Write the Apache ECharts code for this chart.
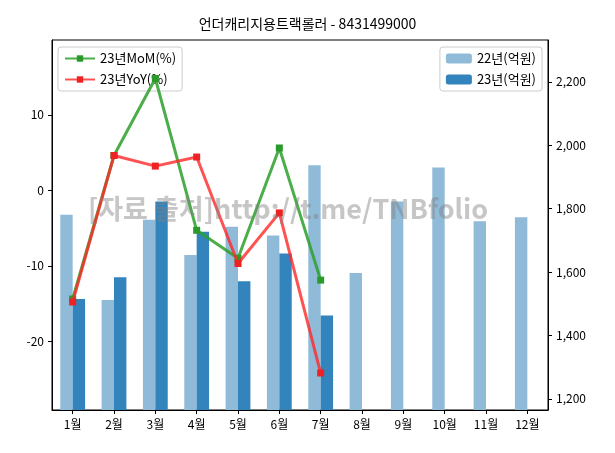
<!DOCTYPE html>
<html><head><meta charset="utf-8">
<script src="https://cdn.jsdelivr.net/npm/echarts@6/dist/echarts.min.js"></script>
<style>body{margin:0}#main{width:615px;height:453px}</style>
</head><body><div id="main"></div>
<script>
var months = ['1월','2월','3월','4월','5월','6월','7월','8월','9월','10월','11월','12월'];
var y22 = [1781,1512,1765,1654,1743,1715,1937,1597,1823,1930,1760,1773];
var y23 = [1515,1584,1823,1727,1571,1659,1463];
var mom = [-14.4,4.6,14.8,-5.3,-9.0,5.6,-11.9];
var yoy = [-14.8,4.6,3.2,4.4,-9.7,-3.0,-24.2];
var leftTicks = [-20,-10,0,10];
var rightTicks = [1200,1400,1600,1800,2000,2200];

var font = 'Noto Sans CJK KR';
var myChart = echarts.init(document.getElementById('main'));
var axisCommon = {
    axisLine: {show: true, onZero: false, lineStyle: {color: '#000'}},
    axisTick: {show: true, inside: false, length: 4, lineStyle: {color: '#000'}},
    axisLabel: {color: '#000', fontFamily: font, fontSize: 12},
    splitLine: {show: false}
};
var option = {
    textStyle: {fontFamily: font},
    title: {text: '언더캐리지용트랙롤러 - 8431499000', left: 'center', top: 12,
        textStyle: {fontSize: 14, fontWeight: 'normal', color: '#000', fontFamily: font}},
    graphic: [{type: 'text', left: 88, top: 195, z: 100,
        style: {text: '[자료 출처]http://t.me/TNBfolio', fontSize: 27, fontWeight: 'bold',
            fill: 'rgba(128,128,128,0.45)', fontFamily: font}}],
    legend: [
        {data: ['23년MoM(%)','23년YoY(%)'], orient: 'vertical', left: 58, top: 47,
         itemGap: 8, itemWidth: 30, itemHeight: 8, backgroundColor: '#fff',
         borderColor: '#ccc', borderWidth: 1, borderRadius: 3, padding: [5,6],
         textStyle: {fontSize: 13, color: '#000'}},
        {data: ['22년(억원)','23년(억원)'], orient: 'vertical', right: 73, top: 47,
         itemGap: 8, itemWidth: 26, itemHeight: 10, backgroundColor: '#fff',
         borderColor: '#ccc', borderWidth: 1, borderRadius: 3, padding: [5,6],
         textStyle: {fontSize: 13, color: '#000'}}
    ],
    grid: {left: 52, right: 67, top: 40, bottom: 43, show: true, borderColor: '#000', borderWidth: 1},
    xAxis: Object.assign({}, axisCommon, {type: 'category', data: months,
        axisTick: {show: true, alignWithLabel: true, length: 4, lineStyle: {color: '#000'}}}),
    yAxis: [
        Object.assign({}, axisCommon, {type: 'value', min: -29.1, max: 19.9,
            axisLabel: {color: '#000', fontSize: 12, customValues: leftTicks},
            axisTick: {show: true, length: 4, lineStyle: {color: '#000'}, customValues: leftTicks}}),
        Object.assign({}, axisCommon, {type: 'value', min: 1165, max: 2332, position: 'right',
            axisLabel: {color: '#000', fontSize: 12, customValues: rightTicks,
                formatter: function (v) { return v.toLocaleString('en-US'); }},
            axisTick: {show: true, length: 4, lineStyle: {color: '#000'}, customValues: rightTicks}})
    ],
    series: [
        {name: '22년(억원)', type: 'bar', yAxisIndex: 1, data: y22, barWidth: '30%', barGap: '0%',
         itemStyle: {color: '#8fbbd9'}},
        {name: '23년(억원)', type: 'bar', yAxisIndex: 1, data: y23, barWidth: '30%',
         itemStyle: {color: '#3383bc'}},
        {name: '23년MoM(%)', type: 'line', yAxisIndex: 0, data: mom, z: 5,
         symbol: 'rect', symbolSize: 7, lineStyle: {width: 3, color: 'rgba(44,160,44,0.85)'},
         itemStyle: {color: '#2a9a2a'}},
        {name: '23년YoY(%)', type: 'line', yAxisIndex: 0, data: yoy, z: 6,
         symbol: 'rect', symbolSize: 7, lineStyle: {width: 3, color: 'rgba(255,40,40,0.8)'},
         itemStyle: {color: '#ee2222'}}
    ]
};
myChart.setOption(option);
</script></body></html>
